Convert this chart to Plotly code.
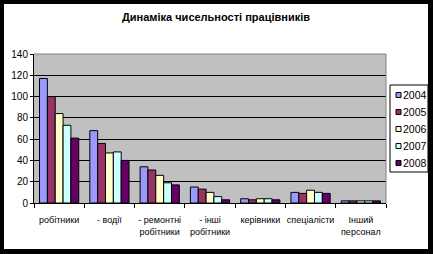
import plotly.graph_objects as go

categories = ["робітники", "- водії", "- ремонтні<br>робітники", "- інші<br>робітники",
              "керівники", "спеціалісти", "Інший<br>персонал"]
years = ["2004", "2005", "2006", "2007", "2008"]
v2004 = [117, 68, 34, 15, 4, 10, 2]
v2005 = [100, 56, 31, 13, 3, 9, 2]
v2006 = [84, 47, 26, 10, 4, 12, 2]
v2007 = [73, 48, 19, 6, 4, 10, 2]
v2008 = [61, 40, 17, 3, 3, 9, 2]
series = [v2004, v2005, v2006, v2007, v2008]
colors = ["#9999FF", "#993366", "#FFFFCC", "#CCFFFF", "#660066"]
y_ticks = [0, 20, 40, 60, 80, 100, 120, 140]

W, H = 433, 254
ML, MR, MT, MB = 34, 47, 54, 51
PW, PH = W - ML - MR, H - MT - MB


def px(x):
    return (x - ML) / PW


def py(y):
    return (H - MB - y) / PH


FONT = "Liberation Sans, Arial, sans-serif"

fig = go.Figure()
for yr, vals, c in zip(years, series, colors):
    fig.add_trace(go.Bar(x=categories, y=vals, name=yr, marker_color=c,
                         marker_line_color="black", marker_line_width=1))

shapes = []
# black outer frame
for x0, y0, x1, y1 in [(0, 0, 4, H), (0, 0, W, 4), (428, 0, W, H), (0, 249, W, H)]:
    shapes.append(dict(type="rect", xref="paper", yref="paper",
                       x0=px(x0), x1=px(x1), y0=py(y0), y1=py(y1),
                       fillcolor="black", line_width=0, layer="above"))
# plot area top / right border
shapes.append(dict(type="line", xref="paper", yref="paper", x0=0, x1=1, y0=1, y1=1,
                   line=dict(color="#808080", width=1)))
shapes.append(dict(type="line", xref="paper", yref="paper", x0=1, x1=1, y0=0, y1=1,
                   line=dict(color="#808080", width=1)))
# legend box
shapes.append(dict(type="rect", xref="paper", yref="paper",
                   x0=px(390), x1=px(428), y0=py(85), y1=py(172),
                   fillcolor="white", line=dict(color="black", width=1)))
annotations = []
for i, (yr, c) in enumerate(zip(years, colors)):
    yc = 95 + i * 17
    shapes.append(dict(type="rect", xref="paper", yref="paper",
                       x0=px(396), x1=px(401), y0=py(yc - 2.5), y1=py(yc + 2.5),
                       fillcolor=c, line=dict(color="black", width=1)))
    annotations.append(dict(text=yr, xref="paper", yref="paper", x=px(401), y=py(yc),
                            xanchor="left", yanchor="middle", showarrow=False,
                            font=dict(family=FONT, size=10.5, color="black")))

fig.update_layout(
    width=W, height=H,
    margin=dict(l=ML, r=MR, t=MT, b=MB, pad=0),
    paper_bgcolor="white", plot_bgcolor="#C0C0C0",
    showlegend=False,
    barmode="group", bargap=0.22, bargroupgap=0,
    title=dict(text="<b>Динаміка чисельності працівників</b>", x=216 / W, xanchor="center",
               y=1 - 17 / H, yanchor="middle", xref="container", yref="container",
               font=dict(family=FONT, size=11, color="black")),
    font=dict(family=FONT, size=9, color="black"),
    shapes=shapes, annotations=annotations,
)
fig.update_xaxes(showline=True, linecolor="black", linewidth=1, ticks="outside",
                 tickson="boundaries", ticklen=4, tickcolor="black", tickangle=0,
                 automargin=False, ticklabelstandoff=8,
                 tickfont=dict(family=FONT, size=9, color="black"), showgrid=False)
fig.update_yaxes(range=[0, 140], tickvals=y_ticks, showline=True, linecolor="black",
                 linewidth=1, ticks="outside", ticklen=3, tickcolor="black",
                 gridcolor="black", gridwidth=1, zeroline=False, automargin=False,
                 tickfont=dict(family=FONT, size=10, color="black"))

fig.write_html("out.html")
